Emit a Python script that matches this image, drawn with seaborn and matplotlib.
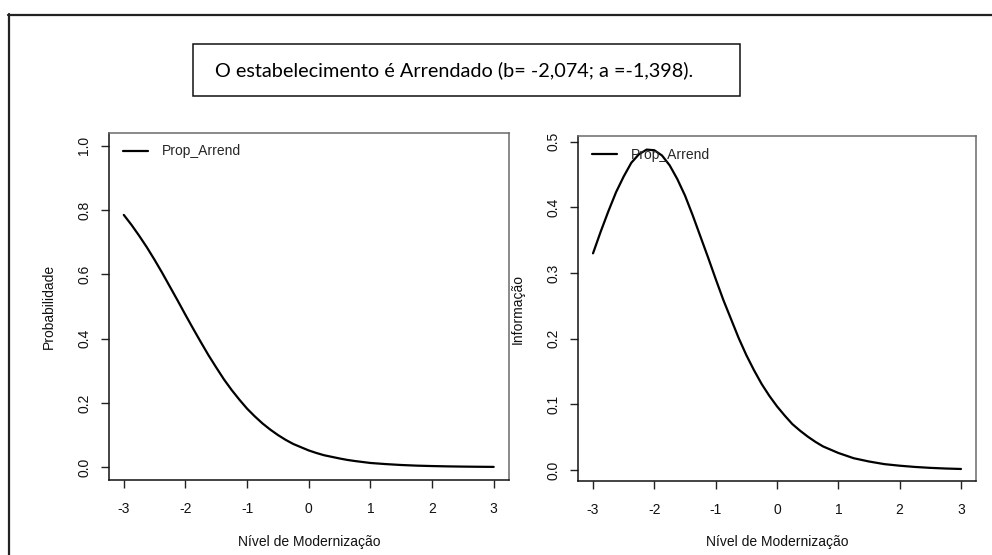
import matplotlib
matplotlib.use("Agg")
import matplotlib.pyplot as plt
import seaborn as sns
import pandas as pd
from matplotlib.lines import Line2D
from matplotlib.patches import Rectangle

# ---- data ----
theta = [-3.0, -2.875, -2.75, -2.625, -2.5, -2.375, -2.25, -2.125, -2.0, -1.875, -1.75,
         -1.625, -1.5, -1.375, -1.25, -1.125, -1.0, -0.875, -0.75, -0.625, -0.5, -0.375,
         -0.25, -0.125, 0.0, 0.125, 0.25, 0.375, 0.5, 0.625, 0.75, 0.875, 1.0, 1.25, 1.5,
         1.75, 2.0, 2.25, 2.5, 2.75, 3.0]
prob = [0.785, 0.754, 0.720, 0.684, 0.645, 0.604, 0.561, 0.518, 0.474, 0.431, 0.389,
        0.348, 0.310, 0.273, 0.240, 0.210, 0.182, 0.158, 0.136, 0.117, 0.100, 0.085,
        0.072, 0.062, 0.052, 0.044, 0.037, 0.032, 0.027, 0.0225, 0.019, 0.016, 0.013,
        0.0095, 0.0067, 0.0047, 0.0034, 0.0024, 0.0017, 0.0012, 0.0008]
info = [0.330, 0.363, 0.394, 0.423, 0.447, 0.468, 0.481, 0.488, 0.487, 0.479, 0.464,
        0.443, 0.418, 0.388, 0.356, 0.324, 0.291, 0.259, 0.230, 0.201, 0.175, 0.152,
        0.131, 0.113, 0.097, 0.083, 0.070, 0.060, 0.051, 0.043, 0.036, 0.031, 0.026,
        0.018, 0.013, 0.009, 0.0066, 0.0047, 0.0033, 0.0023, 0.0016]
series_name = "Prop_Arrend"
x_ticks = [-3, -2, -1, 0, 1, 2, 3]
left_yticks = [0.0, 0.2, 0.4, 0.6, 0.8, 1.0]
right_yticks = [0.0, 0.1, 0.2, 0.3, 0.4, 0.5]
title_text = "O estabelecimento é Arrendado (b= -2,074; a =-1,398)."
xlabel = "Nível de Modernização"
ylabel_left = "Probabilidade"
ylabel_right = "Informação"

df = pd.DataFrame({"theta": theta, "prob": prob, "info": info, "item": series_name})

sns.set_theme(style="white")
plt.rcParams["font.family"] = ["Liberation Sans", "DejaVu Sans"]

W, H = 992, 555
fig = plt.figure(figsize=(W / 100, H / 100), dpi=100)

def fx(px):
    return px / W

def fy(py):
    return 1 - py / H

# outer frame (page border)
fig.add_artist(Line2D([fx(8), fx(992)], [fy(14.5), fy(14.5)], color="#222222", lw=1.6,
                      transform=fig.transFigure))
fig.add_artist(Line2D([fx(8.5), fx(8.5)], [fy(14), fy(560)], color="#222222", lw=1.6,
                      transform=fig.transFigure))

# title box
fig.add_artist(Rectangle((fx(192.5), fy(96)), fx(740 - 192.5), (96 - 44) / H, fill=False,
                         edgecolor="#111111", lw=1.1, transform=fig.transFigure))
t = fig.text(fx(215), fy(70), title_text, family=["Lato", "DejaVu Sans"], fontsize=14,
             ha="left", va="center", color="black")
# fit the text width to the reference (215..697 px)
fig.canvas.draw()
r = fig.canvas.get_renderer()
w = t.get_window_extent(r).width
t.set_fontsize(14 * 482 / w)

def style_axes(ax, yticks, ylim, ylabel):
    ax.set_xlim(-3.24, 3.24)
    ax.set_ylim(*ylim)
    ax.set_xticks(x_ticks)
    ax.set_xticklabels([str(v) for v in x_ticks])
    ax.set_yticks(yticks)
    ax.set_yticklabels([f"{v:.1f}" for v in yticks], rotation=90, va="center")
    ax.tick_params(axis="both", direction="out", length=5.8, width=1.0, color="#222222",
                   labelsize=10, labelcolor="#111111", bottom=True, left=True)
    ax.tick_params(axis="x", pad=10)
    ax.tick_params(axis="y", pad=7)
    for s in ["left", "bottom"]:
        ax.spines[s].set_color("#111111")
        ax.spines[s].set_linewidth(1.1)
    for s in ["top", "right"]:
        ax.spines[s].set_color("#6a6a6a")
        ax.spines[s].set_linewidth(1.1)
    ax.set_xlabel(xlabel, fontsize=10, color="#111111")
    ax.set_ylabel(ylabel, fontsize=10, color="#111111")
    ax.grid(False)

# left panel
axL = fig.add_axes([fx(109), fy(480), fx(508.5 - 109), (480 - 133) / H])
sns.lineplot(data=df, x="theta", y="prob", hue="item", palette=["black"], lw=1.6, ax=axL)
style_axes(axL, left_yticks, (-0.04, 1.04), ylabel_left)
axL.xaxis.set_label_coords(0.5, (480 - 542) / 347)
axL.xaxis.label.set_va("center")
axL.yaxis.set_label_coords((49 - 109) / 399.5, 0.5)
axL.yaxis.label.set_va("center")
axL.legend(loc="upper left", bbox_to_anchor=(0.035, 0.967), frameon=False, fontsize=10,
           borderpad=0, borderaxespad=0, handlelength=1.8, handletextpad=1.0)

# right panel
axR = fig.add_axes([fx(578.3), fy(481), fx(975.7 - 578.3), (481 - 136) / H])
sns.lineplot(data=df, x="theta", y="info", hue="item", palette=["black"], lw=1.6, ax=axR)
style_axes(axR, right_yticks, (-0.0167, 0.5087), ylabel_right)
axR.xaxis.set_label_coords(0.5, (481 - 542) / 345)
axR.xaxis.label.set_va("center")
axR.yaxis.set_label_coords((518 - 578.3) / 397.4, 0.5)
axR.yaxis.label.set_va("center")
axR.legend(loc="upper left", bbox_to_anchor=(0.0345, 0.966), frameon=False, fontsize=10,
           borderpad=0, borderaxespad=0, handlelength=1.8, handletextpad=1.0)

fig.savefig("out.png", dpi=100)
